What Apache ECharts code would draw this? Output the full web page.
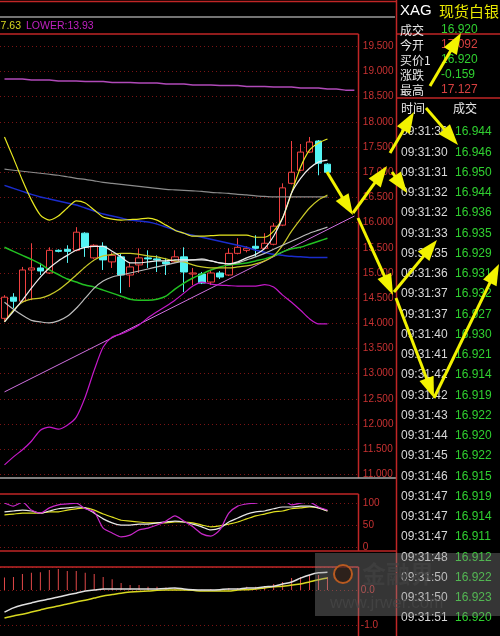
<!DOCTYPE html>
<html><head><meta charset="utf-8">
<script src="https://cdn.jsdelivr.net/npm/echarts@6/dist/echarts.min.js"></script>
<style>html,body{margin:0;padding:0;background:#000;}#c{width:500px;height:636px;}</style>
</head><body><div id="c"></div>
<script>
// ---------- data ----------
const categories = ['1','2','3','4','5','6','7','8','9','10','11','12','13','14','15','16','17','18','19','20',
  '21','22','23','24','25','26','27','28','29','30','31','32','33','34','35','36','37','38','39','40'];
// [open, close, low, high]
const candles = [
  [14.10,14.52,14.03,14.56],[14.52,14.44,14.30,14.60],[14.44,15.06,14.42,15.12],[15.06,15.10,14.46,15.59],
  [15.10,15.04,14.96,15.20],[15.00,15.45,14.98,15.51],[15.45,15.43,15.41,15.47],[15.47,15.43,15.20,15.55],
  [15.45,15.81,15.43,15.91],[15.79,15.51,15.32,15.81],[15.30,15.55,15.28,15.57],[15.53,15.26,15.06,15.61],
  [15.22,15.35,15.10,15.41],[15.32,14.96,14.60,15.39],[14.96,15.12,14.72,15.20],[15.16,15.30,15.00,15.49],
  [15.30,15.28,15.10,15.45],[15.28,15.26,15.02,15.35],[15.22,15.18,14.96,15.30],[15.22,15.32,15.20,15.45],
  [15.32,15.02,14.62,15.51],[14.98,15.00,14.76,15.10],[14.98,14.80,14.78,15.02],[14.82,15.00,14.76,15.06],
  [15.00,14.92,14.88,15.04],[14.96,15.39,14.94,15.49],[15.39,15.51,15.37,15.69],[15.45,15.49,15.41,15.53],
  [15.53,15.49,15.32,15.75],[15.49,15.59,15.47,15.79],[15.57,15.93,15.55,15.99],[15.95,16.69,15.93,16.78],
  [16.78,17.00,16.76,17.62],[17.04,17.40,17.02,17.56],[17.40,17.60,17.38,17.70],[17.62,17.18,16.94,17.64],
  [17.16,17.00,16.98,17.18]
];
const purpleTop = [18.85,18.85,18.85,18.83,18.83,18.83,18.81,18.81,18.81,18.80,18.80,18.80,18.78,18.78,18.78,
  18.77,18.77,18.77,18.75,18.75,18.75,18.73,18.73,18.73,18.72,18.72,18.72,18.70,18.70,18.70,18.69,18.69,18.69,
  18.67,18.67,18.67,18.65,18.65,18.63,18.63];
const trendLine = [[0,12.64],[39,16.13]];
const lowerBand = [11.19,11.35,11.49,11.66,11.88,11.94,11.90,11.98,12.14,12.54,13.07,13.53,13.73,13.79,13.87,13.97,
  14.11,14.23,14.34,14.46,14.60,14.74,14.82,14.78,14.76,14.75,14.74,14.74,14.74,14.77,14.72,14.56,14.42,14.26,14.09,13.99,13.99];
const upperYellow = [17.70,17.28,16.84,16.45,16.15,16.05,16.13,16.29,16.43,16.39,16.25,16.11,16.07,16.05,16.06,16.07,
  16.09,16.05,15.95,15.85,15.79,15.73,15.73,15.74,15.75,15.75,15.75,15.75,15.71,15.71,15.83,16.09,16.59,17.10,17.44,17.58,17.66];
const maWhite = [14.03,14.24,14.46,14.70,14.92,15.10,15.24,15.35,15.45,15.51,15.53,15.53,15.43,15.32,15.20,15.20,
  15.22,15.24,15.24,15.26,15.26,15.26,15.26,15.24,15.20,15.18,15.22,15.30,15.37,15.49,15.73,16.09,16.59,16.88,17.08,17.20,17.24];
const maSilver = [14.42,14.28,14.16,14.06,14.03,14.01,14.05,14.14,14.30,14.50,14.70,14.84,14.92,14.96,15.00,15.04,
  15.08,15.12,15.16,15.20,15.24,15.26,15.28,15.24,15.20,15.18,15.20,15.26,15.32,15.39,15.47,15.55,15.63,15.71,15.79,15.85,15.91];
const maOlive = [14.03,14.26,14.42,14.48,14.50,14.56,14.66,14.80,14.96,15.12,15.26,15.34,15.37,15.39,15.39,15.37,
  15.34,15.32,15.28,15.24,15.22,15.16,15.12,15.10,15.10,15.10,15.12,15.14,15.18,15.24,15.34,15.55,15.83,16.07,16.29,16.45,16.55];
const maGreen = [15.51,15.43,15.35,15.27,15.18,15.06,14.97,14.88,14.82,14.76,14.72,14.66,14.60,14.54,14.48,14.46,
  14.46,14.48,14.54,14.68,14.80,14.90,14.98,15.06,15.12,15.16,15.18,15.20,15.24,15.28,15.34,15.42,15.48,15.51,15.57,15.63,15.69];
const maBlue = [16.74,16.68,16.62,16.56,16.51,16.47,16.43,16.39,16.35,16.29,16.23,16.17,16.13,16.09,16.05,16.03,
  16.01,15.97,15.91,15.85,15.79,15.75,15.71,15.67,15.63,15.59,15.55,15.51,15.45,15.41,15.37,15.35,15.33,15.32,15.31,15.31,15.31];
const maGray = [17.06,17.04,17.02,17.00,16.98,16.96,16.94,16.91,16.88,16.86,16.83,16.80,16.78,16.76,16.74,16.72,
  16.70,16.68,16.66,16.65,16.64,16.63,16.62,16.60,16.59,16.58,16.56,16.55,16.53,16.52,16.51,16.51,16.51,16.51,16.51,16.51,16.51];
const kdjJ = [101,94,103,85,78,90,97,99,101,88,81,44,33,24,28,40,44,51,60,72,60,47,31,26,40,78,94,99,101,106,112,110,97,101,103,92,85];
const kdjK = [81,83,85,83,78,83,88,90,92,90,78,65,56,51,51,53,53,56,58,60,58,53,47,40,44,58,67,76,81,83,88,92,92,94,94,90,83];
const kdjD = [74,76,78,78,78,81,81,85,88,90,85,76,69,62,60,58,56,56,56,58,58,56,51,47,49,53,58,65,72,76,81,83,88,90,92,90,83];
const macdBar = [0.36,0.37,0.46,0.49,0.51,0.57,0.60,0.54,0.54,0.49,0.46,0.37,0.31,0.20,0.14,0.14,0.09,0.09,0.07,0.06,
  0.03,0.03,0.01,0.03,0.03,0.06,0.06,0.09,0.09,0.11,0.17,0.23,0.34,0.37,0.43,0.43,0.37];
const macdDif = [-0.63,-0.51,-0.43,-0.37,-0.31,-0.26,-0.20,-0.14,-0.09,-0.03,0,0.03,0.03,0.03,0.03,0.03,0.03,0.03,0.04,0.06,
  0.03,0.01,0,0,0.01,0.03,0.03,0.06,0.06,0.09,0.11,0.17,0.23,0.34,0.43,0.49,0.51];
const macdDea = [-0.80,-0.74,-0.69,-0.63,-0.57,-0.51,-0.46,-0.40,-0.34,-0.29,-0.23,-0.17,-0.13,-0.09,-0.06,-0.04,-0.03,-0.01,0,0,
  0,-0.01,-0.03,-0.03,-0.03,-0.03,0,0.01,0.03,0.06,0.09,0.11,0.14,0.17,0.23,0.29,0.34];
const quoteLabels = ['成交','今开','买价1','涨跌','最高'];
const quoteValues = ['16.920','17.092','16.920','-0.159','17.127'];
const quoteUp = [false,true,false,false,true];
const tickTimes = ['09:31:30','09:31:30','09:31:31','09:31:32','09:31:32','09:31:33','09:31:35','09:31:36','09:31:37',
  '09:31:37','09:31:40','09:31:41','09:31:42','09:31:42','09:31:43','09:31:44','09:31:45','09:31:46','09:31:47',
  '09:31:47','09:31:47','09:31:48','09:31:50','09:31:50','09:31:51'];
const tickPrices = ['16.944','16.946','16.950','16.944','16.936','16.935','16.929','16.931','16.932','16.927','16.930',
  '16.921','16.914','16.919','16.922','16.920','16.922','16.915','16.919','16.914','16.911','16.912','16.922','16.923','16.920'];

// ---------- layout / style ----------
const RED = '#c02626', GRIDC = '#7a1414', LBL = '#c83232';
const FONT = '"Liberation Sans", Arial, sans-serif';
const CJK = '"Noto Sans CJK SC", sans-serif';
const gl = -4.54, gw = 363.4;
const splitStyle = {show:true, lineStyle:{color:GRIDC, type:[1,3], width:1}};
const hidX = i => ({type:'category', gridIndex:i, data:categories, show:false, boundaryGap:true});

function L(x1,y1,x2,y2,c,w){return {type:'line',silent:true,z:50,shape:{x1,y1,x2,y2},style:{stroke:c,lineWidth:w||1}};}
function T(t,x,y,c,f,al){return {type:'text',silent:true,z:60,style:{text:t,x,y,fill:c,font:f,textAlign:al||'left',textVerticalAlign:'middle'}};}
function arrow(x1,y1,x2,y2){
  const dx=x2-x1, dy=y2-y1, len=Math.hypot(dx,dy), ux=dx/len, uy=dy/len, hl=21, hw=7.5;
  const bx=x2-ux*hl, by=y2-uy*hl;
  return [
    {type:'line',silent:true,z:100,shape:{x1,y1,x2:bx+ux*2,y2:by+uy*2},style:{stroke:'#f2f200',lineWidth:3}},
    {type:'polygon',silent:true,z:100,shape:{points:[[x2,y2],[bx-uy*hw,by+ux*hw],[bx+uy*hw,by-ux*hw]]},style:{fill:'#f2f200'}}
  ];
}

const g = [];
// frames
g.push(L(0,1.5,396,1.5,RED,1.5));
g.push(L(0,17,395,17,'#9a9a9a',1.5));
g.push(L(0,34,358.5,34,RED,1.5));
g.push(L(358.5,34,358.5,478,RED,1.5));
g.push(L(0,478,396,478,'#a8a8a8',1.5));
g.push(L(0,494,358.5,494,RED,1.5));
g.push(L(358.5,494,358.5,551,RED,1.5));
g.push(L(0,551,396,551,RED,1.5));
g.push(L(0,567,358.5,567,RED,1.5));
g.push(L(358.5,567,358.5,636,RED,1.5));
g.push(L(396.5,0,396.5,636,RED,1.5));
g.push(L(396,34,500,34,RED,1.5));
g.push(L(396,98,500,98,RED,1.5));
// legend
g.push(T('UPPER:17.63',21,26,'#d8d820','10.5px '+FONT,'right'));
g.push(T('LOWER:13.93',26,26,'#c020c0','10.5px '+FONT));
// right panel header
g.push(T('XAG',400,11,'#ffffff','15px '+FONT));
g.push(T('现货白银',439,11,'#e8e800','15px '+CJK));
quoteLabels.forEach((s,i)=>{
  const y = 30 + i*15;
  g.push(T(s,400,y,'#e8e8e8','12px '+CJK));
  g.push(T(quoteValues[i],441,y,quoteUp[i]?'#d84040':'#30d030','12px '+FONT));
});
g.push(T('时间',401,108,'#e8e8e8','12px '+CJK));
g.push(T('成交',453,108,'#e8e8e8','12px '+CJK));
tickTimes.forEach((s,i)=>{
  const y = 132 + i*20.25;
  g.push(T(s,401,y,'#d8d8d8','12px '+FONT));
  g.push(T(tickPrices[i],455,y,'#30d030','12px '+FONT));
});
// watermark
g.push({type:'rect',silent:true,z:90,shape:{x:315,y:553,width:185,height:63},style:{fill:'rgba(140,140,140,0.38)'}});
g.push({type:'circle',silent:true,z:91,shape:{cx:343,cy:574,r:9},style:{fill:'rgba(40,20,10,0.6)',stroke:'#b85a20',lineWidth:2}});
g.push(T('金融界',362,574,'rgba(20,20,20,0.75)','bold 24px '+CJK));
g.push(T('www.jrwer.com',330,603,'rgba(30,30,30,0.75)','17px '+FONT));
// arrows (annotations)
[[327,172,353,215],[353,213,387,166],[392,172,407,193],[358,218,393,295],[394,292,437,240],
 [396,298,434,398],[434,398,499,264],[430,86,461,33],[426,108,458,145],[390,153,414,112]]
 .forEach(a=>arrow(...a).forEach(e=>g.push(e)));

const lineS = (data,color,xi,w,extra) => Object.assign({type:'line',data,xAxisIndex:xi,yAxisIndex:xi,symbol:'none',
  smooth:0.25,lineStyle:{color,width:w||1},silent:true,z:3},extra||{});

const option = {
  backgroundColor:'#000',
  animation:false,
  grid:[
    {left:gl,width:gw,top:46.3,height:428.2},
    {left:gl,width:gw,top:503.5,height:44},
    {left:gl,width:gw,top:567,height:58}
  ],
  xAxis:[hidX(0),hidX(1),hidX(2)],
  yAxis:[
    {type:'value',gridIndex:0,position:'right',min:11,max:19.5,interval:0.5,
     axisLine:{show:false},axisTick:{show:false},splitLine:splitStyle,
     axisLabel:{color:LBL,fontSize:10,fontFamily:FONT,margin:4,formatter:v=>v.toFixed(3)}},
    {type:'value',gridIndex:1,position:'right',min:0,max:100,interval:50,
     axisLine:{show:false},axisTick:{show:false},splitLine:splitStyle,
     axisLabel:{color:LBL,fontSize:10,fontFamily:FONT,margin:4}},
    {type:'value',gridIndex:2,position:'right',min:-1,max:0.657,interval:1,
     axisLine:{show:false},axisTick:{show:false},splitLine:splitStyle,
     axisLabel:{color:LBL,fontSize:10,fontFamily:FONT,margin:2,
       formatter:v=>(Math.abs(v-Math.round(v))<1e-6)?v.toFixed(1):''}}
  ],
  series:[
    {type:'candlestick',data:candles,xAxisIndex:0,yAxisIndex:0,barWidth:7,silent:true,z:2,
     itemStyle:{color:'#000',color0:'#54f4f4',borderColor:'#f04040',borderColor0:'#54f4f4',borderWidth:1}},
    lineS(purpleTop,'#b04ab8',0,1.5,{smooth:false}),
    lineS(trendLine,'#d070e0',0,1,{smooth:false}),
    lineS(lowerBand,'#c418c8',0,1.2),
    lineS(maGray,'#8c8c8c',0,1.2),
    lineS(maBlue,'#1a2ccc',0,1.5),
    lineS(maGreen,'#22c022',0,1.5),
    lineS(upperYellow,'#e8e820',0,1.2),
    lineS(maOlive,'#c8c828',0,1.2),
    lineS(maSilver,'#bcbcbc',0,1.2),
    lineS(maWhite,'#ececec',0,1.2),
    lineS(kdjD,'#e0e020',1,1.2),
    lineS(kdjK,'#e8e8e8',1,1.2),
    lineS(kdjJ,'#c828c8',1,1.2),
    {type:'bar',data:macdBar,xAxisIndex:2,yAxisIndex:2,barWidth:1,silent:true,itemStyle:{color:'#e04848'}},
    lineS(macdDea,'#d8d820',2,1.5),
    lineS(macdDif,'#e0e0e0',2,1.5)
  ],
  graphic:g
};
const chart = echarts.init(document.getElementById('c'),null,{renderer:'canvas'});
chart.setOption(option);
</script></body></html>
